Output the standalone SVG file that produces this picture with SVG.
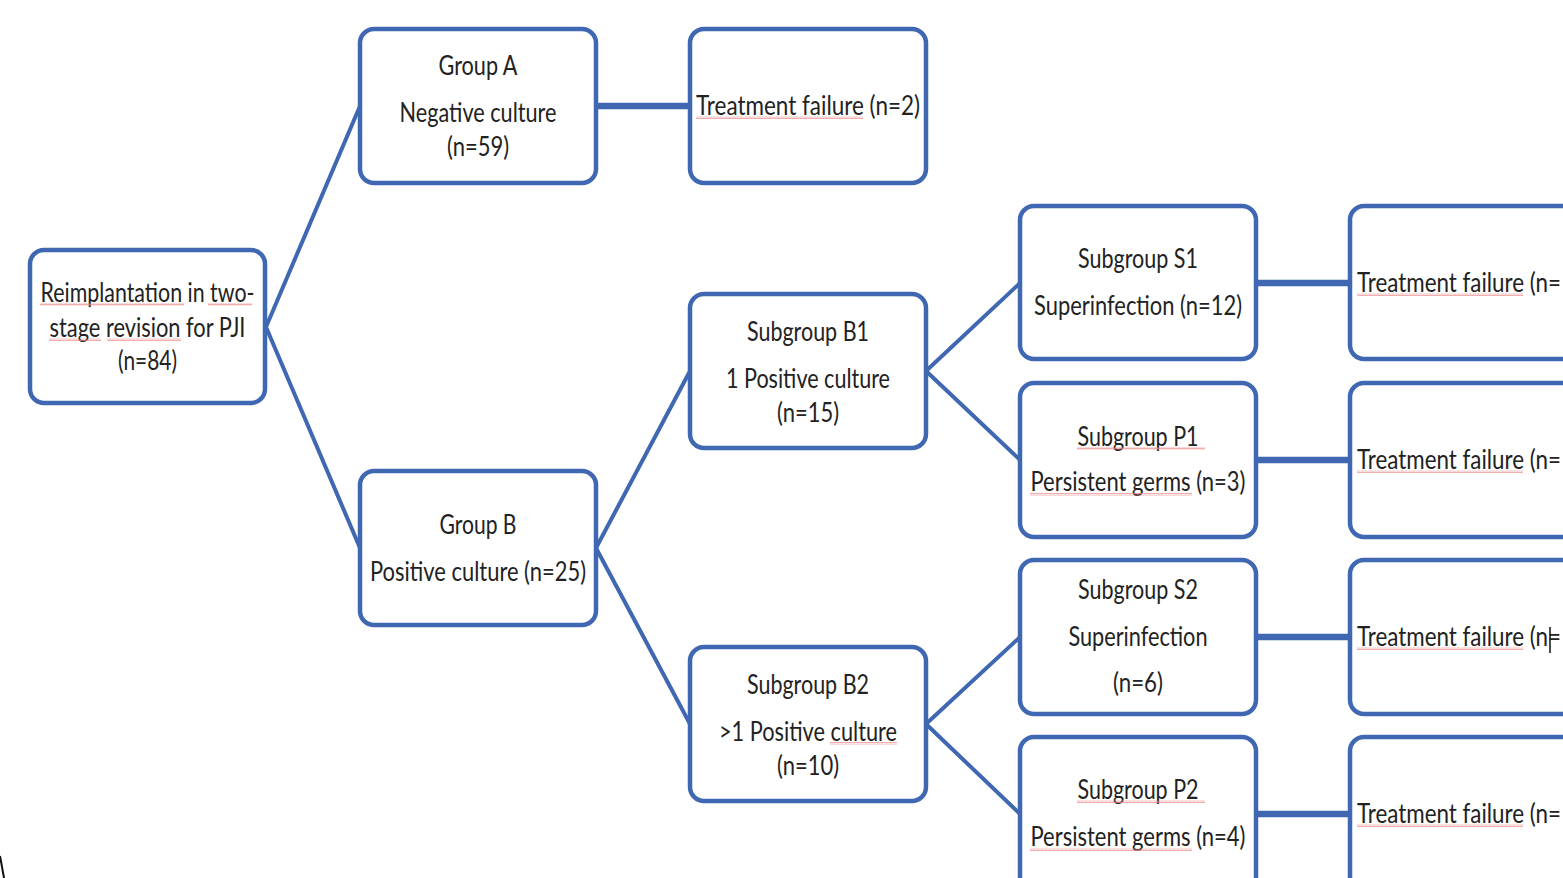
<svg xmlns="http://www.w3.org/2000/svg" width="1563" height="878" viewBox="0 0 1563 878">
<style>
.box{fill:#fff;stroke:#4068B2;stroke-width:4.5}
.diag{stroke:#4068B2;stroke-width:4;fill:none;stroke-linecap:round}
.hor{stroke:#4068B2;stroke-width:6.5;fill:none}
text{font-family:Lato,"Liberation Sans",sans-serif;font-size:26px;fill:#222;text-anchor:middle}
text.l{text-anchor:start}
.sq{fill:url(#squiggle)}
</style>
<defs>
<pattern id="squiggle" patternUnits="userSpaceOnUse" width="4" height="3">
<path d="M0 2.5 L1 0.5 L2 2.5 L3 0.5 L4 2.5" stroke="#EC8A8A" stroke-width="0.7" fill="none"/>
</pattern>
</defs>
<rect width="1563" height="878" fill="#fff"/>
<g id="connectors">
<line class="diag" x1="266" y1="327" x2="360" y2="106"/>
<line class="diag" x1="266" y1="327" x2="360" y2="548"/>
<line class="hor" x1="596" y1="106" x2="690" y2="106"/>
<line class="diag" x1="596" y1="548" x2="690" y2="371"/>
<line class="diag" x1="596" y1="548" x2="690" y2="724"/>
<line class="diag" x1="926" y1="371" x2="1020" y2="283"/>
<line class="diag" x1="926" y1="371" x2="1020" y2="460"/>
<line class="diag" x1="926" y1="724" x2="1020" y2="637"/>
<line class="diag" x1="926" y1="724" x2="1020" y2="814"/>
<line class="hor" x1="1256" y1="283" x2="1350" y2="283"/>
<line class="hor" x1="1256" y1="460" x2="1350" y2="460"/>
<line class="hor" x1="1256" y1="637" x2="1350" y2="637"/>
<line class="hor" x1="1256" y1="814" x2="1350" y2="814"/>
</g>
<g id="root">
<rect class="box" x="30" y="250" width="235" height="153" rx="14"/>
<text x="147.5" y="302" textLength="214" lengthAdjust="spacingAndGlyphs">Reimplantation in two-</text>
<text x="147.5" y="337" textLength="196" lengthAdjust="spacingAndGlyphs">stage revision for PJI</text>
<text x="147.5" y="370" textLength="59" lengthAdjust="spacingAndGlyphs">(n=84)</text>
<rect class="sq" x="40" y="303" width="144" height="3"/>
<rect class="sq" x="208" y="303" width="44" height="3"/>
<rect class="sq" x="49" y="338" width="52" height="3"/>
<rect class="sq" x="107" y="338" width="74" height="3"/>
</g>
<g id="groupA">
<rect class="box" x="360" y="29" width="236" height="154" rx="14"/>
<text x="478" y="75" textLength="79" lengthAdjust="spacingAndGlyphs">Group A</text>
<text x="478" y="122" textLength="157" lengthAdjust="spacingAndGlyphs">Negative culture</text>
<text x="478" y="156" textLength="62" lengthAdjust="spacingAndGlyphs">(n=59)</text>
</g>
<g id="failureA">
<rect class="box" x="690" y="29" width="236" height="154" rx="14"/>
<text x="808" y="115" textLength="224" lengthAdjust="spacingAndGlyphs">Treatment failure (n=2)</text>
<rect class="sq" x="696" y="116" width="167" height="3"/>
</g>
<g id="groupB">
<rect class="box" x="360" y="471" width="236" height="154" rx="14"/>
<text x="478" y="534" textLength="77" lengthAdjust="spacingAndGlyphs">Group B</text>
<text x="478" y="581" textLength="216" lengthAdjust="spacingAndGlyphs">Positive culture (n=25)</text>
</g>
<g id="subgroupB1">
<rect class="box" x="690" y="294" width="236" height="154" rx="14"/>
<text x="808" y="341" textLength="122" lengthAdjust="spacingAndGlyphs">Subgroup B1</text>
<text x="808" y="388" textLength="164" lengthAdjust="spacingAndGlyphs">1 Positive culture</text>
<text x="808" y="422" textLength="62" lengthAdjust="spacingAndGlyphs">(n=15)</text>
</g>
<g id="subgroupB2">
<rect class="box" x="690" y="647" width="236" height="154" rx="14"/>
<text x="808" y="694" textLength="122" lengthAdjust="spacingAndGlyphs">Subgroup B2</text>
<text x="808" y="741" textLength="178" lengthAdjust="spacingAndGlyphs">&gt;1 Positive culture</text>
<text x="808" y="775" textLength="62" lengthAdjust="spacingAndGlyphs">(n=10)</text>
<rect class="sq" x="830" y="742" width="67" height="3"/>
</g>
<g id="subgroupS1">
<rect class="box" x="1020" y="206" width="236" height="153" rx="14"/>
<text x="1138" y="268" textLength="120" lengthAdjust="spacingAndGlyphs">Subgroup S1</text>
<text x="1138" y="315" textLength="208" lengthAdjust="spacingAndGlyphs">Superinfection (n=12)</text>
</g>
<g id="subgroupP1">
<rect class="box" x="1020" y="383" width="236" height="154" rx="14"/>
<text x="1138" y="446" textLength="121" lengthAdjust="spacingAndGlyphs">Subgroup P1</text>
<text x="1138" y="491" textLength="215" lengthAdjust="spacingAndGlyphs">Persistent germs (n=3)</text>
<rect class="sq" x="1077" y="447" width="128" height="3"/>
<rect class="sq" x="1030" y="493" width="162" height="3"/>
</g>
<g id="subgroupS2">
<rect class="box" x="1020" y="560" width="236" height="154" rx="14"/>
<text x="1138" y="599" textLength="120" lengthAdjust="spacingAndGlyphs">Subgroup S2</text>
<text x="1138" y="646" textLength="139" lengthAdjust="spacingAndGlyphs">Superinfection</text>
<text x="1138" y="692" textLength="50" lengthAdjust="spacingAndGlyphs">(n=6)</text>
</g>
<g id="subgroupP2">
<rect class="box" x="1020" y="737" width="236" height="160" rx="14"/>
<text x="1138" y="799" textLength="121" lengthAdjust="spacingAndGlyphs">Subgroup P2</text>
<text x="1138" y="846" textLength="215" lengthAdjust="spacingAndGlyphs">Persistent germs (n=4)</text>
<rect class="sq" x="1077" y="800" width="128" height="3"/>
<rect class="sq" x="1030" y="848" width="162" height="3"/>
</g>
<g id="failureS1">
<rect class="box" x="1350" y="206" width="240" height="153" rx="14"/>
<text class="l" x="1357" y="292" textLength="204" lengthAdjust="spacingAndGlyphs">Treatment failure (n=</text>
<rect class="sq" x="1357" y="293" width="166" height="3"/>
</g>
<g id="failureP1">
<rect class="box" x="1350" y="383" width="240" height="154" rx="14"/>
<text class="l" x="1357" y="469" textLength="204" lengthAdjust="spacingAndGlyphs">Treatment failure (n=</text>
<rect class="sq" x="1357" y="470" width="166" height="3"/>
</g>
<g id="failureS2">
<rect class="box" x="1350" y="560" width="240" height="154" rx="14"/>
<text class="l" x="1357" y="646" textLength="204" lengthAdjust="spacingAndGlyphs">Treatment failure (n=</text>
<rect class="sq" x="1357" y="647" width="166" height="3"/>
<line x1="1550" y1="627" x2="1550" y2="653" stroke="#111" stroke-width="1.5"/>
</g>
<g id="failureP2">
<rect class="box" x="1350" y="737" width="240" height="160" rx="14"/>
<text class="l" x="1357" y="823" textLength="204" lengthAdjust="spacingAndGlyphs">Treatment failure (n=</text>
<rect class="sq" x="1357" y="824" width="166" height="3"/>
</g>
<path d="M0 856 L4 878" stroke="#111" stroke-width="2" fill="none"/>
</svg>
